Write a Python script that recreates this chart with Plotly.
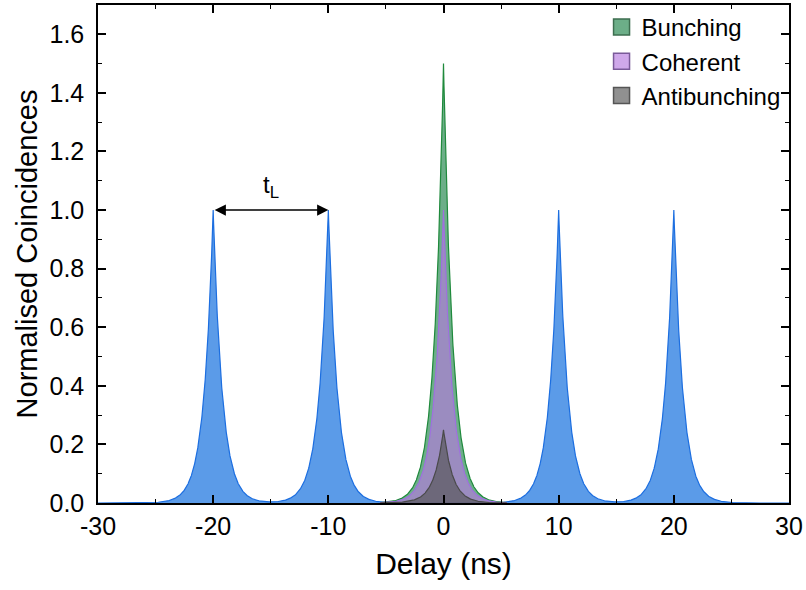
import numpy as np
import plotly.graph_objects as go

# Peak positions (ns) and heights of the side peaks of the g2 histogram
side_delays = [-20, -10, 10, 20]
side_heights = [1.0, 1.0, 1.0, 1.0]

# Zero-delay peak heights for the three kinds of light
centre_names = ["Bunching", "Coherent", "Antibunching"]
centre_heights = [1.5, 1.0, 0.25]

# Decay time of each peak (ns) and the laser repetition period
decay_ns = 0.8
rep_period = [-20, -10]

x_ticks = [-30, -20, -10, 0, 10, 20, 30]
y_ticks = [0.0, 0.2, 0.4, 0.6, 0.8, 1.0, 1.2, 1.4, 1.6]

delay = np.linspace(-30, 30, 6001)


def peak(centre, height):
    return height * np.exp(-np.abs(delay - centre) / decay_ns)


side = np.zeros_like(delay)
for c, h in zip(side_delays, side_heights):
    side += peak(c, h)

fill_colours = ["rgba(29,130,72,0.65)", "rgba(181,121,223,0.65)", "rgba(84,84,84,0.65)"]
line_colours = ["#1f8a3c", "#a070e0", "#4a4a4a"]
legend_colours = ["#6cae88", "#cfa8ea", "#909090"]
legend_edges = ["#3d6e4f", "#7a5a99", "#555555"]

fig = go.Figure()
fig.add_trace(go.Scatter(
    x=delay, y=side, mode="lines", fill="tozeroy",
    line=dict(color="#1c6ee0", width=1.2),
    fillcolor="rgba(3,101,220,0.65)", showlegend=False,
))

for name, h, fc, lc in zip(centre_names, centre_heights, fill_colours, line_colours):
    centre = peak(0, h)
    mask = np.abs(delay) <= 5.5
    fig.add_trace(go.Scatter(
        x=delay[mask], y=centre[mask], mode="lines", fill="tozeroy",
        line=dict(color=lc, width=1.2), fillcolor=fc, name=name,
        showlegend=False,
    ))

# Square swatches for the legend
for name, col, edge in zip(centre_names, legend_colours, legend_edges):
    fig.add_trace(go.Scatter(
        x=[None], y=[None], mode="markers", name=name,
        marker=dict(symbol="square", size=19, color=col, line=dict(color=edge, width=1.5)),
    ))

# Double arrow marking the repetition period
fig.add_annotation(
    x=rep_period[1], y=1.0, ax=rep_period[0], ay=1.0,
    xref="x", yref="y", axref="x", ayref="y",
    showarrow=True, arrowhead=2, arrowsize=1.6, arrowwidth=1.4,
    arrowside="end+start", arrowcolor="black", text="",
)
fig.add_annotation(
    x=(rep_period[0] + rep_period[1]) / 2, y=1.0, yshift=24,
    xref="x", yref="y", showarrow=False,
    text="t<sub>L</sub>", font=dict(size=24, color="black"),
)

axis_common = dict(
    showline=True, linecolor="black", linewidth=1.5, mirror="allticks",
    ticks="inside", ticklen=8, tickwidth=1.5, tickcolor="black",
    showgrid=False, zeroline=False,
    tickfont=dict(size=25, color="black"),
)

fig.update_xaxes(
    range=[-30, 30], tickvals=x_ticks, ticktext=[str(v) for v in x_ticks],
    title=dict(text="Delay (ns)", font=dict(size=30, color="black"), standoff=14),
    minor=dict(ticks="inside", dtick=5, ticklen=4, tickwidth=1.2, tickcolor="black"),
    **axis_common,
)
fig.update_yaxes(
    range=[0, 1.7], tickvals=y_ticks, ticktext=[f"{v:.1f}" for v in y_ticks],
    ticklabelstandoff=7,
    title=dict(text="Normalised Coincidences", font=dict(size=29, color="black"), standoff=3),
    minor=dict(ticks="inside", dtick=0.1, ticklen=4, tickwidth=1.2, tickcolor="black"),
    **axis_common,
)

fig.update_layout(
    width=806, height=590,
    margin=dict(l=98, r=17, t=5, b=87, autoexpand=False),
    paper_bgcolor="white", plot_bgcolor="white",
    font=dict(family="Liberation Sans, Arial, sans-serif", color="black"),
    legend=dict(
        x=0.995, y=1.0, xanchor="right", yanchor="top",
        bgcolor="rgba(255,255,255,0)", font=dict(size=24),
        itemwidth=30, tracegroupgap=0,
    ),
)

fig.write_html("out.html")
